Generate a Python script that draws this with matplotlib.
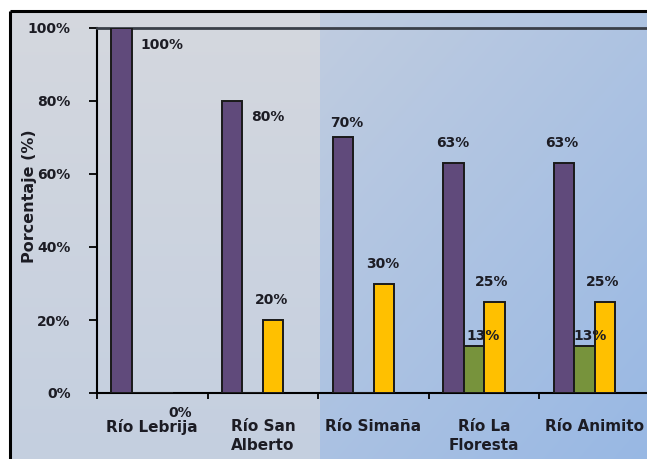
import numpy as np
import matplotlib
matplotlib.use("Agg")
import matplotlib.pyplot as plt

# ---- data ----
categories = ["Río Lebrija", "Río San\nAlberto", "Río Simaña", "Río La\nFloresta", "Río Animito"]
serie_morada = [100, 80, 70, 63, 63]
serie_verde = [0, 0, 0, 13, 13]
serie_amarilla = [0, 20, 30, 25, 25]
y_ticks = [0, 20, 40, 60, 80, 100]
y_tick_labels = ["0%", "20%", "40%", "60%", "80%", "100%"]

# ---- style ----
colors = ["#604A7B", "#77933C", "#FFC000"]
W, H, DPI = 647, 459, 100
font = "DejaVu Sans"
txt_color = "#1c1c24"

fig = plt.figure(figsize=(W / DPI, H / DPI), dpi=DPI)
fig.patch.set_facecolor("white")

# background panel: grey block on the left, blue diagonal gradient on the right
bg = fig.add_axes([0, 0, 1, 1], zorder=0)
yy, xx = np.mgrid[0:H, 0:W].astype(float)
split = 320
left_top = np.array([213, 216, 222]) / 255
left_bot = np.array([196, 207, 224]) / 255
t = (yy / H)[..., None]
left = left_top * (1 - t) + left_bot * t
right_a = np.array([193, 205, 224]) / 255
right_b = np.array([152, 184, 228]) / 255
s = (((xx - split) / (W - split)) * 0.45 + (yy / H) * 0.55)[..., None]
s = np.clip(s, 0, 1)
right = right_a * (1 - s) + right_b * s
img = np.where((xx < split)[..., None], left, right)
img[:11, :, :] = 1.0
img[:, :10, :] = 1.0
bg.imshow(img, extent=(0, W, H, 0), aspect="auto", interpolation="bilinear")
bg.plot([10, W], [11, 11], color="black", lw=2.2, solid_capstyle="butt")
bg.plot([10, 10], [11, H], color="black", lw=2.2, solid_capstyle="butt")
bg.set_xlim(0, W)
bg.set_ylim(H, 0)
bg.axis("off")

# ---- main chart ----
x0, x1, yb, yt = 97, 650, 393, 28
ax = fig.add_axes([x0 / W, (H - yb) / H, (x1 - x0) / W, (yb - yt) / H], zorder=1)
ax.patch.set_alpha(0)

n_slots = 4
bar_w = 0.185
centers = np.arange(len(categories)) + 0.5
series = [serie_morada, serie_verde, serie_amarilla]
bars = []
for i, (vals, c) in enumerate(zip(series, colors)):
    pos = centers + (i - (n_slots - 1) / 2) * bar_w
    b = ax.bar(pos, vals, width=bar_w, color=c, edgecolor="#1a1a1a", linewidth=1.4, zorder=3)
    bars.append(b)

# value labels (pixel offsets from the top-centre of each bar)
label_offsets = [
    [(40, -17), (36, -16), (4, 14), (-1, 20), (-2, 20)],
    [None, None, None, (9, 10), (6, 10)],
    [(18, -20), (-2, 20), (-1, 20), (-3, 20), (-2, 20)],
]
for i, (vals, bs) in enumerate(zip(series, bars)):
    for j, (v, rect) in enumerate(zip(vals, bs)):
        off = label_offsets[i][j]
        if off is None:
            continue
        ax.annotate(f"{v}%", (rect.get_x() + rect.get_width() / 2, v),
                    xytext=off, textcoords="offset pixels", ha="center", va="center",
                    fontsize=10, fontweight="bold", family=font, color=txt_color,
                    zorder=5, annotation_clip=False)

ax.set_xlim(0, len(categories))
ax.set_ylim(0, 100)
ax.set_yticks(y_ticks)
ax.set_yticklabels(y_tick_labels, fontsize=10, fontweight="bold", family=font, color=txt_color)
ax.tick_params(axis="y", direction="out", length=6, width=1.3, pad=13, color="black")

ax.set_xticks(np.arange(len(categories) + 1))
ax.set_xticklabels([])
ax.tick_params(axis="x", which="major", direction="out", length=4, width=1.3, color="black")
ax.set_xticks(centers, minor=True)
ax.set_xticklabels(categories, minor=True, fontsize=11, fontweight="bold", family=font,
                   color=txt_color, linespacing=1.3)
ax.tick_params(axis="x", which="minor", length=0, pad=19)

ax.set_ylabel("Porcentaje (%)", fontsize=11.5, fontweight="bold", family=font,
              color=txt_color)
ax.yaxis.set_label_coords(-0.108, 0.54)

for side in ["left", "bottom"]:
    ax.spines[side].set_color("black")
    ax.spines[side].set_linewidth(1.5)
ax.spines["top"].set_color("#3a3f48")
ax.spines["top"].set_linewidth(2)
ax.spines["right"].set_visible(False)

fig.savefig("out.png", dpi=DPI)
